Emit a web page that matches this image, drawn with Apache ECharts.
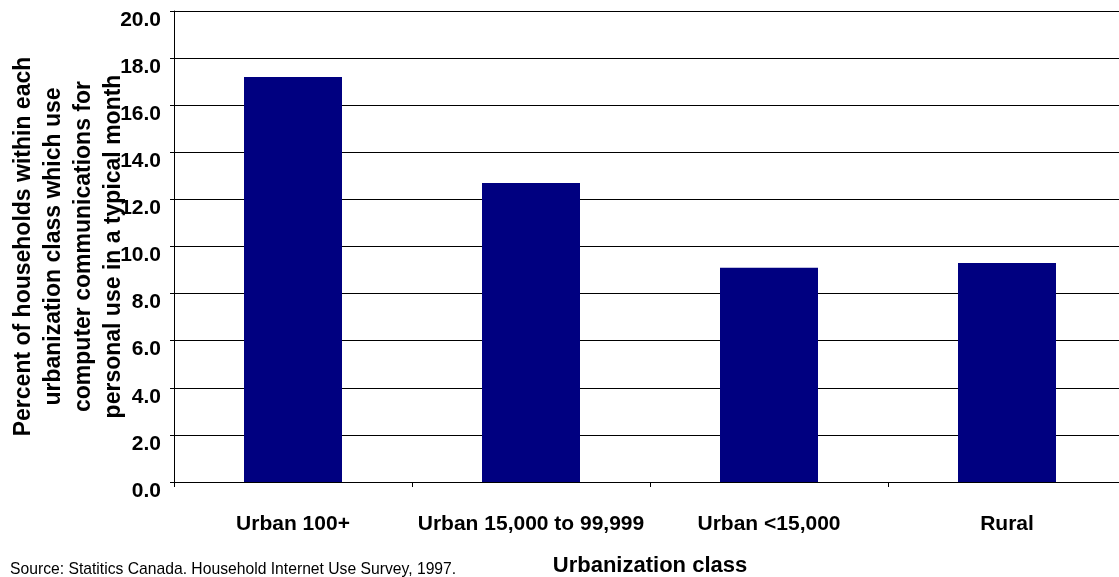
<!DOCTYPE html>
<html>
<head>
<meta charset="utf-8">
<script src="https://cdn.jsdelivr.net/npm/echarts@6/dist/echarts.min.js"></script>
<style>
html,body{margin:0;padding:0;background:#fff;}
#chart{width:1119px;height:577px;}
</style>
</head>
<body>
<div id="chart"></div>
<script>
const categories = ['Urban 100+', 'Urban 15,000 to 99,999', 'Urban <15,000', 'Rural'];
const values = [17.2, 12.7, 9.1, 9.3];
const yTicks = { min: 0, max: 20, interval: 2 };
const yTitle = 'Percent of households within each\nurbanization class which use\ncomputer communications for\npersonal use in a typical month';
const xTitle = 'Urbanization class';
const sourceText = 'Source: Statitics Canada. Household Internet Use Survey, 1997.';

const font = 'Liberation Sans, Arial, Helvetica, sans-serif';
const chart = echarts.init(document.getElementById('chart'), null, { renderer: 'canvas' });
chart.setOption({
  backgroundColor: '#ffffff',
  animation: false,
  grid: { left: 174, top: 11, width: 952, height: 471, containLabel: false, outerBoundsMode: 'none' },
  xAxis: {
    type: 'category',
    data: categories,
    boundaryGap: true,
    name: xTitle,
    nameLocation: 'middle',
    nameGap: 73,
    nameMoveOverlap: false,
    nameTextStyle: { fontFamily: font, fontWeight: 'bold', fontSize: 22, color: '#000', lineHeight: 22, verticalAlign: 'top' },
    axisLine: { show: true, lineStyle: { color: '#000', width: 1 } },
    axisTick: { show: true, alignWithLabel: false, length: 5, lineStyle: { color: '#000' } },
    axisLabel: { fontFamily: font, fontWeight: 'bold', fontSize: 21, color: '#000', margin: 32, lineHeight: 21, interval: 0 },
    splitLine: { show: false }
  },
  yAxis: {
    type: 'value',
    min: yTicks.min, max: yTicks.max, interval: yTicks.interval,
    name: yTitle,
    nameLocation: 'middle',
    nameRotate: 90,
    nameGap: 45,
    nameMoveOverlap: false,
    nameTextStyle: { fontFamily: font, fontWeight: 'bold', fontSize: 23, color: '#000', lineHeight: 30, align: 'center' },
    axisLine: { show: true, lineStyle: { color: '#000', width: 1 } },
    axisTick: { show: true, length: 4, lineStyle: { color: '#000' } },
    axisLabel: {
      fontFamily: font, fontWeight: 'bold', fontSize: 21, color: '#000', margin: 13,
      formatter: v => v.toFixed(1), verticalAlign: 'top', lineHeight: 18
    },
    splitLine: { show: true, lineStyle: { color: '#000', width: 1 } }
  },
  series: [{
    type: 'bar',
    data: values,
    barWidth: 98,
    itemStyle: { color: '#000080' }
  }],
  graphic: [{
    type: 'text',
    left: 10,
    top: 562,
    style: { text: sourceText, fontFamily: font, fontSize: 15.7, fill: '#000' }
  }]
});
</script>
</body>
</html>
